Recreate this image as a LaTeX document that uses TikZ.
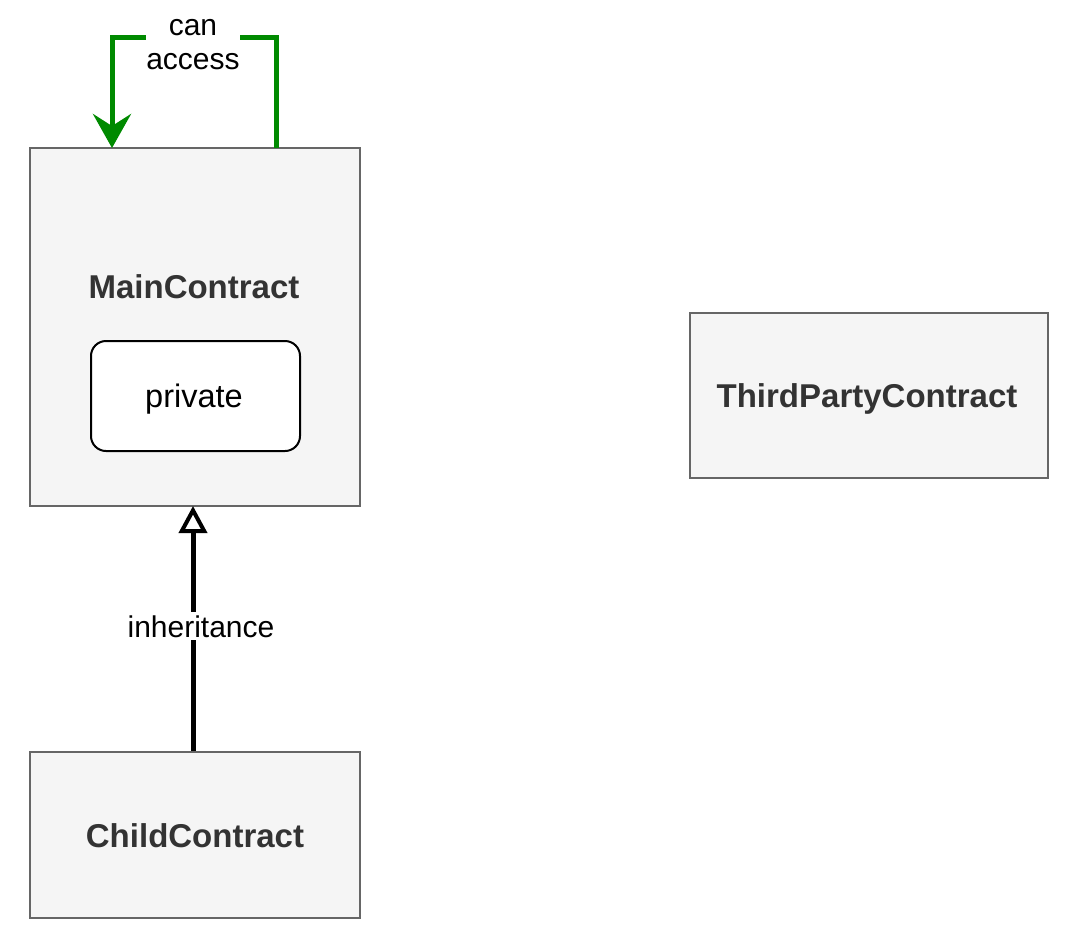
\documentclass[tikz,border=0pt]{standalone}
\usepackage{fontspec}
\setmainfont{Liberation Sans}
\usetikzlibrary{arrows.meta}
\definecolor{boxfill}{HTML}{F5F5F5}
\definecolor{boxline}{HTML}{666666}
\definecolor{boxtext}{HTML}{333333}
\definecolor{accgreen}{HTML}{008A00}
\begin{document}
\begin{tikzpicture}[x=1pt,y=-1pt,
  contract/.style={draw=boxline,fill=boxfill,line width=2pt},
  ctext/.style={anchor=base,inner sep=0pt,text=boxtext,font=\fontsize{33}{38}\selectfont\bfseries},
  privbox/.style={draw=black,fill=white,line width=2pt,rounded corners=15pt},
  ptext/.style={anchor=base,inner sep=0pt,font=\fontsize{32.5}{38}\selectfont},
  lbl/.style={fill=white,font=\fontsize{30}{34}\selectfont,inner xsep=0.5pt,inner ysep=3pt,align=center},
  greenarrow/.style={draw=accgreen,line width=5pt,-{Stealth[length=34pt,width=38pt,inset=12pt]}},
  inherit/.style={draw=black,line width=5pt,-{Triangle[open,length=27pt,width=28pt,line width=4pt]}}]
\useasboundingbox (0,0) rectangle (1078,948);
% boxes
\node[contract,minimum width=330pt,minimum height=358pt] (mainbox) at (195,327) {};
\node[ctext] (main) at (194,298) {MainContract};
\node[privbox,minimum width=209pt,minimum height=110pt] (priv) at (195.5,396) {};
\node[ptext] (privtext) at (194,407) {private};
\node[contract,minimum width=358pt,minimum height=165pt] (third) at (869,395.5) {};
\node[ctext] (thirdtext) at (867,407) {ThirdPartyContract};
\node[contract,minimum width=330pt,minimum height=166pt] (child) at (195,835) {};
\node[ctext] (childtext) at (195,847) {ChildContract};
% anchors on the main box
\coordinate (mainTopR) at (276,148);
\coordinate (mainTopL) at (112,148);
\coordinate (mainBot) at (193,506);
% green self arrow
\draw[greenarrow] (mainTopR) -- (276,37) -- (112,37) -- (mainTopL);
\node[lbl] (canacc) at (193,44.5) {can\\access};
% inheritance
\draw[inherit] (child.north -| mainBot) -- (mainBot);
\node[lbl,anchor=base] (inh) at (201,637) {inheritance};
\end{tikzpicture}
\end{document}
